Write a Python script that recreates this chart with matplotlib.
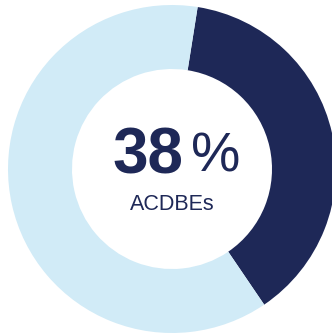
import matplotlib
matplotlib.use("Agg")
import matplotlib.pyplot as plt

categories = ["ACDBEs", "Other"]
values = [38, 62]
colors = ["#1e2857", "#d1ebf7"]
big_label = "38"
sub_label = "ACDBEs"

W, H = 332, 334
fig = plt.figure(figsize=(W / 100, H / 100), dpi=100)
ax = fig.add_axes([0, 0, 1, 1])

cx, cy = 172, H - 169
R = 164
ax.pie(values, colors=colors, startangle=81, counterclock=False,
       center=(cx, cy), radius=R, wedgeprops=dict(width=64, linewidth=0),
       frame=True)
ax.set_xlim(0, W)
ax.set_ylim(0, H)
ax.set_aspect("equal")
ax.axis("off")

ax.text(183, H - 157, big_label, ha="right", va="center", fontsize=46,
        fontweight="bold", color="#1e2857", family="Liberation Sans")
ax.text(191, H - 158, "%", ha="left", va="center", fontsize=40,
        color="#1e2857", family="Liberation Sans")
ax.text(172, H - 205, sub_label, ha="center", va="center", fontsize=15.5,
        color="#1e2857", family="Liberation Sans")

fig.savefig("out.png", dpi=100)
